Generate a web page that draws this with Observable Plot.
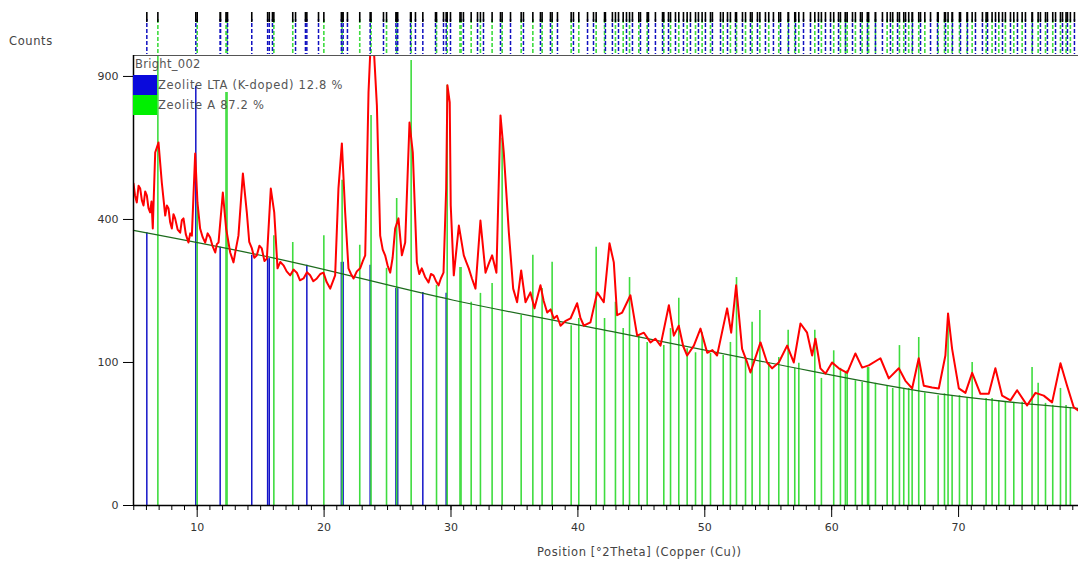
<!DOCTYPE html>
<html><head><meta charset="utf-8">
<script src="https://cdn.jsdelivr.net/npm/d3@7"></script>
<script src="https://cdn.jsdelivr.net/npm/@observablehq/plot@0.6"></script>
<style>
body{margin:0;background:#fff;font-family:"DejaVu Sans",sans-serif;}
#wrap{position:relative;width:1078px;height:562px;overflow:hidden;background:#fff;}
#strip{position:absolute;left:0;top:0;}
#main{position:absolute;left:0;top:50px;}
.lbl{position:absolute;color:#444;font-size:11.5px;letter-spacing:0.6px;white-space:nowrap;}
.sw{position:absolute;width:24px;height:20px;}
</style></head><body>
<div id="wrap">
 <div id="strip"></div>
 <div id="main"></div>
 <div class="lbl" style="left:9px;top:34px">Counts</div>
 <div class="lbl" style="left:135px;top:57px;color:#555;letter-spacing:0.3px">Bright_002</div>
 <div class="sw" style="left:133px;top:75px;background:#0a0adc"></div>
 <div class="sw" style="left:133px;top:95px;background:#00f000"></div>
 <div class="lbl" id="lg1" style="left:158px;top:78px;color:#555;letter-spacing:0.7px"></div>
 <div class="lbl" id="lg2" style="left:158px;top:98px;color:#555;letter-spacing:0.7px"></div>
 <div class="lbl" id="xt" style="left:537px;top:545px;color:#444"></div>
</div>
<script>
// ---- data ----
const xDomain = [4.98, 79.45];
const yDomain = [0, 990];
const yTicks = [0, 100, 400, 900];
const xTicks = [10, 20, 30, 40, 50, 60, 70];
const phaseNames = ["Zeolite LTA (K-doped) 12.8 %", "Zeolite A 87.2 %"];
const xTitle = "Position [°2Theta] (Copper (Cu))";

// observed pattern [°2θ, counts]
const observedPts = [
[4.98,507],[5.1,470],[5.24,449],[5.38,500],[5.51,491],[5.64,455],[5.77,440],[5.9,482],[6.03,470],[6.16,432],[6.29,420],[6.4,452],[6.5,375],[6.69,609],[6.95,644],[7.21,510],
[7.48,411],[7.61,440],[7.74,431],[7.87,392],[8.0,375],[8.13,415],[8.26,403],[8.46,372],[8.66,364],[8.79,398],[8.92,403],[9.1,360],[9.31,338],[9.45,362],[9.58,356],[9.84,606],[10.02,449],
[10.23,375],[10.43,352],[10.63,338],[10.82,362],[11.02,351],[11.22,328],[11.42,313],[11.55,334],[11.68,338],[12.02,479],[12.28,375],[12.6,313],[12.86,289],[13.05,322],[13.25,356],
[13.6,539],[13.91,420],[14.1,340],[14.31,323],[14.5,300],[14.7,306],[14.9,330],[15.09,323],[15.3,292],[15.49,298],[15.8,491],[16.07,420],[16.33,275],[16.55,290],[16.8,282],
[17.05,268],[17.33,259],[17.6,272],[17.85,265],[18.1,248],[18.38,252],[18.65,266],[18.9,259],[19.15,246],[19.43,252],[19.7,262],[19.95,265],[20.2,244],[20.48,230],[20.87,259],[21.13,491],[21.4,641],
[21.66,420],[21.92,275],[22.12,262],[22.32,252],[22.58,268],[22.84,275],[23.05,292],[23.24,306],[23.5,834],[23.71,1100],[23.89,1050],[24.16,782],[24.42,356],
[24.62,320],[24.81,306],[25.0,282],[25.21,265],[25.4,300],[25.6,375],[25.86,403],[26.13,306],[26.39,338],[26.73,717],[26.99,609],[27.31,289],[27.5,262],[27.7,275],
[27.95,256],[28.23,243],[28.42,262],[28.62,259],[28.82,246],[29.02,237],[29.2,252],[29.41,265],[29.62,491],[29.72,863],[29.9,794],[29.98,440],[30.22,259],[30.62,383],
[31.01,306],[31.2,290],[31.4,275],[31.65,252],[31.93,230],[32.32,397],[32.72,265],[33.0,288],[33.24,306],[33.58,265],[33.9,744],[34.16,609],[34.56,364],
[34.9,230],[35.21,202],[35.53,270],[35.87,202],[36.26,222],[36.58,190],[37.05,237],[37.3,205],[37.58,182],[37.85,188],[38.1,171],[38.35,176],[38.63,158],[39.0,166],
[39.42,171],[39.94,200],[40.2,172],[40.47,158],[40.99,164],[41.52,222],[42.04,202],[42.49,336],[42.83,289],[43.09,177],[43.49,182],
[44.14,216],[44.67,141],[45.2,146],[45.72,130],[46.1,136],[46.51,125],[47.17,196],[47.56,141],[47.95,158],[48.3,124],[48.61,110],[49.14,125],
[49.66,153],[50.19,114],[50.6,118],[50.97,110],[51.76,190],[52.08,146],[52.47,237],[52.94,120],[53.3,102],[53.6,86.5],[54.39,130],[54.91,100],
[55.31,92],[55.83,100],[56.49,125],[57.01,100],[57.54,162],[58.06,146],[58.46,110],[58.72,136],[59.11,92],[59.51,85],
[60.03,100],[60.56,92],[61.22,86],[61.87,113],[62.4,93],[62.92,96],[63.84,106],[64.5,79],[65.29,92],[65.81,76],
[66.34,67],[66.86,106],[67.26,70],[67.91,68],[68.44,67],[68.96,110],[69.17,180],[69.49,120],[70.02,67],[70.54,62],
[71.07,86],[71.72,61],[72.38,61],[72.9,92],[73.43,59],[74.09,54],[74.61,65],[75.4,49],[76.06,62],[76.71,59],
[77.37,52],[78.03,99],[78.55,70],[79.08,47],[79.45,44]
];

// fitted background [°2θ, counts]
const backgroundPts = [[4.98,370],[16.25,298],[30.2,206],[43.12,146],[54.94,100],[67.94,62],[79.45,46]];

// reference sticks [°2θ, top counts]
const ltaSticks = [[6.03,364],[9.89,859],[11.81,326],[14.3,306],[15.55,298],[15.68,298],[18.64,282],[21.36,289],[21.5,289],
[23.63,282],[25.66,230],[25.8,230],[27.78,222],[29.62,220]];
const zeoASticks = [[6.9,1000],[10.0,450],[12.27,834],[12.35,834],[16.04,356],[17.53,338],[19.98,356],[21.42,517],[22.81,331],
[23.7,744],[24.92,275],[25.72,461],[26.86,968],[28.86,237],[29.7,863],[30.71,277],[30.79,277],[31.59,202],[32.32,220],[33.24,241],
[34.03,659],[35.53,177],[36.45,306],[37.18,230],[37.97,289],[39.47,158],[40.07,171],[41.44,326],[42.1,171],[42.96,202],
[43.57,153],[44.07,254],[44.8,141],[45.46,130],[46.77,125],[47.3,153],[47.95,210],[48.61,120],[49.27,114],[49.79,146],
[50.45,113],[51.45,110],[52.02,130],[52.5,254],[53.21,106],[53.73,164],[54.34,186],[55.04,100],[55.83,107],[56.57,150],
[57.09,92],[57.41,99],[58.67,150],[59.19,79],[60.16,117],[60.69,92],[61.08,86],[61.22,89],[61.87,76],[62.4,74],
[62.83,93],[62.91,93],[63.45,73],[64.37,70],[64.81,67],[65.34,125],[65.68,67],[66.07,67],[66.34,65],[66.86,138],[67.34,62],
[68.39,59],[68.89,61],[69.17,180],[69.49,59],[70.07,59],[70.67,57],[71.07,100],[72.17,56],[72.64,56],[73.17,54],
[73.69,52],[74.35,52],[75.01,52],[75.79,93],[76.27,73],[76.85,51],[77.42,49],[78.03,67],[78.47,49],[78.81,47]];

// weak LTA reflections shown only in the peak-position strip [°2θ]
const ltaStripOnly = [11.84,12.39,15.93,17.75,18.53,19.56,21.84,24.68,26.81,27.2,28.78,29.41,29.96,30.98,32.09,32.56,33.9,34.69,
35.71,37.05,37.84,38.39,39.65,40.76,41.23,42.17,42.72,43.2,43.83,44.3,44.93,45.56,46.11,46.67,47.14,47.69,48.32,48.87,49.5,
50.05,50.6,51.24,51.79,52.42,52.97,53.6,54.15,54.78,55.41,55.97,56.6,57.15,57.78,58.33,58.96,59.51,59.91,60.54,61.09,61.64,
62.27,62.82,63.45,64.0,64.63,65.19,65.82,66.37,67.0,67.79,68.34,68.97,69.52,70.15,70.7,71.33,71.88,72.28,72.91,73.46,74.09,
74.64,75.27,75.82,76.45,77.0,77.64,78.19,78.58,79.13];

// ---- build ----
const obs = observedPts.map(([x, y]) => ({x, y}));
const bg = backgroundPts.map(([x, y]) => ({x, y}));
const lta = ltaSticks.map(([x, y]) => ({x, y}));
const zA = zeoASticks.map(([x, y]) => ({x, y}));
const ltaStrip = [...lta.map(d => d.x), ...ltaStripOnly];
const zStrip = zA.map(d => d.x);
const minorTicks = d3.range(5, 80);

document.getElementById("lg1").textContent = phaseNames[0];
document.getElementById("lg2").textContent = phaseNames[1];
document.getElementById("xt").textContent = xTitle;

const BLUE = "#1414c8", GREEN = "#3fdc3f";

const strip = Plot.plot({
  width: 1078, height: 54, marginLeft: 133, marginRight: 0, marginTop: 12, marginBottom: 0,
  style: {background: "transparent"},
  x: {domain: xDomain, axis: null},
  y: {domain: [0, 1], axis: null},
  marks: [
    Plot.ruleX(zStrip, {x: d => d, stroke: GREEN, strokeWidth: 1.6, strokeDasharray: "4,2", insetTop: 7}),
    Plot.ruleX(ltaStrip, {x: d => d, stroke: "#1010c0", strokeWidth: 1.5, strokeDasharray: "4,2", strokeDashoffset: 2, insetTop: 7}),
    Plot.ruleX([...ltaStrip, ...zStrip], {x: d => d, stroke: "#000", strokeWidth: 1.6, insetBottom: 32})
  ]
});
document.getElementById("strip").appendChild(strip);

const main = Plot.plot({
  width: 1078, height: 512, marginLeft: 133, marginRight: 0, marginTop: 5, marginBottom: 57,
  style: {background: "transparent", fontFamily: "DejaVu Sans", fontSize: "11px", color: "#333"},
  x: {domain: xDomain},
  y: {type: "sqrt", domain: yDomain},
  marks: [
    Plot.ruleX(lta, {x: "x", y: "y", stroke: BLUE, strokeWidth: 1.5, clip: true}),
    Plot.ruleX(zA, {x: "x", y: "y", stroke: GREEN, strokeWidth: 1.6, clip: true}),
    Plot.line(bg, {x: "x", y: "y", stroke: "#1d6b1d", strokeWidth: 1.2, curve: "monotone-x"}),
    Plot.line(obs, {x: "x", y: "y", stroke: "#ff0000", strokeWidth: 2, clip: true}),
    Plot.axisY({ticks: yTicks, tickSize: 10, tickPadding: 5, label: null, stroke: "#000"}),
    Plot.axisX({ticks: minorTicks, tickSize: 5, tickFormat: () => "", label: null, stroke: "#000"}),
    Plot.axisX({ticks: xTicks, tickSize: 12, tickPadding: 6, label: null, stroke: "#000"}),
    Plot.ruleY([yDomain[0]], {stroke: "#000", strokeWidth: 1.5}),
    Plot.ruleY([yDomain[1]], {stroke: "#555", strokeWidth: 1}),
    Plot.ruleX([xDomain[0]], {stroke: "#000", strokeWidth: 1.5})
  ]
});
document.getElementById("main").appendChild(main);
</script>
</body></html>
